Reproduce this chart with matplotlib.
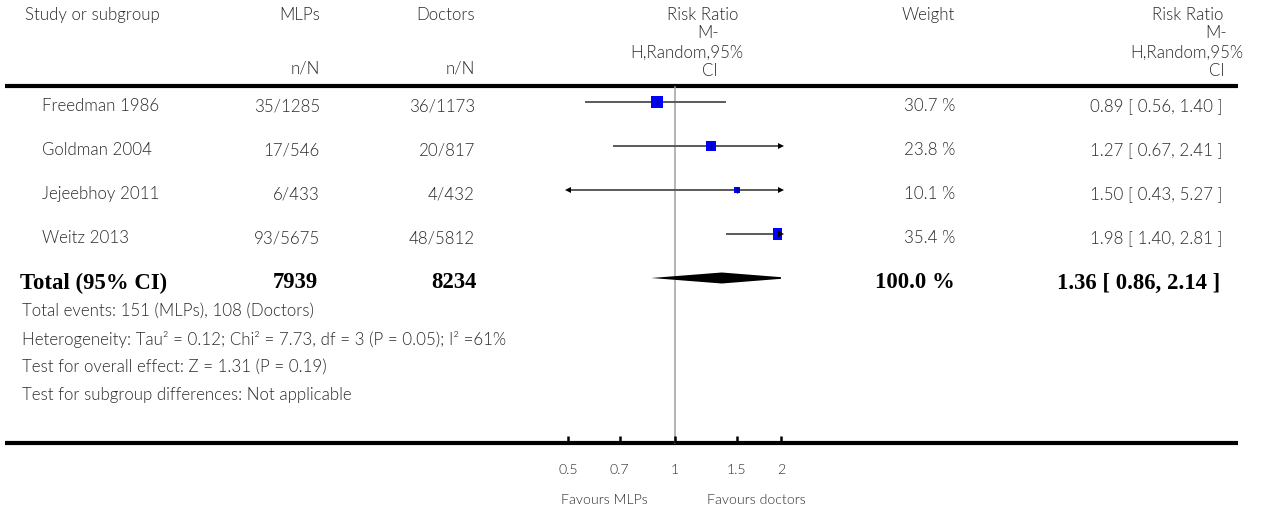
import numpy as np
import matplotlib
matplotlib.use("Agg")
import matplotlib.pyplot as plt

# ---------------- data ----------------
studies = ["Freedman 1986", "Goldman 2004", "Jejeebhoy 2011", "Weitz 2013"]
mlp_events = [35, 17, 6, 93]
mlp_total = [1285, 546, 433, 5675]
doc_events = [36, 20, 4, 48]
doc_total = [1173, 817, 432, 5812]
rr = [0.89, 1.27, 1.50, 1.98]
rr_lo = [0.56, 0.67, 0.43, 1.40]
rr_hi = [1.40, 2.41, 5.27, 2.81]
weights = [30.7, 23.8, 10.1, 35.4]

total_label = "Total (95% CI)"
total_mlp = 7939
total_doc = 8234
total_weight = 100.0
total_rr, total_lo, total_hi = 1.36, 0.86, 2.14

footnotes = [
    "Total events: 151 (MLPs), 108 (Doctors)",
    "Heterogeneity: Tau\u00b2 = 0.12; Chi\u00b2 = 7.73, df = 3 (P = 0.05); I\u00b2 =61%",
    "Test for overall effect: Z = 1.31 (P = 0.19)",
    "Test for subgroup differences: Not applicable",
]

xticks = [0.5, 0.7, 1, 1.5, 2]
xtick_labels = ["0.5", "0.7", "1", "1.5", "2"]
xlim = (0.5, 2)
favours = ["Favours MLPs", "Favours doctors"]

# ---------------- layout ----------------
W, H = 1268, 512
FONT = "Lato"
FW = 300
SERIF = "Liberation Serif"
TXT = "#2b2b2b"

fig = plt.figure(figsize=(W / 100, H / 100), dpi=100)
renderer = fig.canvas.get_renderer()


def fit_size(s, target_px, **kw):
    tt = fig.text(0, 0, s, fontsize=10, **kw)
    w = tt.get_window_extent(renderer=renderer).width
    tt.remove()
    return 10 * target_px / w


fs = fit_size(footnotes[0], 291, family=FONT, fontweight=FW)
fs_bold = fit_size(total_label, 147, family=SERIF, fontweight="bold")
fs_small = fit_size(favours[1], 98, family=FONT, fontweight=FW)

tx = fig.add_axes([0, 0, 1, 1])
tx.set_xlim(0, W)
tx.set_ylim(H, 0)
tx.axis("off")

plot_left, plot_right = 568, 781
fx = fig.add_axes([plot_left / W, 0, (plot_right - plot_left) / W, 1])
fx.set_xscale("log")
fx.set_xlim(*xlim)
fx.set_ylim(H, 0)
fx.axis("off")
fx.patch.set_alpha(0)

row0, row_step = 102, 44
rows = [row0 + i * row_step for i in range(len(studies))]
total_y = row0 + len(studies) * row_step
head_line_y, bottom_line_y = 86, 443
foot_y0, foot_step = 311, 28

col_study, col_mlp, col_doc = 42, 320, 475
col_weight, col_ci = 955, 1223


def t(x, y, s, ha="left", **kw):
    kw.setdefault("fontsize", fs)
    kw.setdefault("color", TXT)
    kw.setdefault("family", FONT)
    kw.setdefault("fontweight", FW)
    tx.text(x, y, s, ha=ha, va="center", **kw)


# header
t(25, 15, "Study or subgroup")
t(col_mlp, 15, "MLPs", ha="right")
t(col_doc, 15, "Doctors", ha="right")
t(col_mlp, 69, "n/N", ha="right")
t(col_doc, 69, "n/N", ha="right")
t(738, 15, "Risk Ratio", ha="right")
t(708, 33, "M-", ha="center")
t(743, 53, "H,Random,95%", ha="right")
t(710, 71, "CI", ha="center")
t(col_weight, 15, "Weight", ha="right")
t(1223, 15, "Risk Ratio", ha="right")
t(1227, 33, "M-", ha="right")
t(1243, 53, "H,Random,95%", ha="right")
t(1225, 71, "CI", ha="right")

# horizontal rules
tx.plot([5, 1238], [head_line_y, head_line_y], color="black", lw=3.0, solid_capstyle="butt")
tx.plot([5, 1238], [bottom_line_y, bottom_line_y], color="black", lw=3.0, solid_capstyle="butt")

# reference line at 1
fx.plot([1, 1], [head_line_y + 1, bottom_line_y], color="#a0a0a0", lw=1.1, zorder=1)

# study rows
for i, y in enumerate(rows):
    ty = y + 4
    t(col_study, ty, studies[i])
    t(col_mlp, ty, f"{mlp_events[i]}/{mlp_total[i]}", ha="right")
    t(col_doc, ty, f"{doc_events[i]}/{doc_total[i]}", ha="right")
    t(col_weight, ty, f"{weights[i]:.1f} %", ha="right")
    t(col_ci, ty, f"{rr[i]:.2f} [ {rr_lo[i]:.2f}, {rr_hi[i]:.2f} ]", ha="right")

    lo = max(rr_lo[i], xlim[0])
    hi = min(rr_hi[i], xlim[1])
    fx.plot([lo, hi], [y, y], color="#5a5a5a", lw=1.4, zorder=2, solid_capstyle="butt")
    side_px = 2.18 * np.sqrt(weights[i])
    fx.plot([rr[i]], [y], marker="s", ms=side_px * 0.72, color="#0000ff",
            markeredgewidth=0, zorder=3)
    fx.plot([rr[i]], [y], marker="|", ms=4, color="#111111", mew=1.0, zorder=4)
    if rr_hi[i] > xlim[1]:
        fx.plot([xlim[1]], [y], marker=">", ms=4, color="black", mew=0,
                clip_on=False, zorder=4)
    if rr_lo[i] < xlim[0]:
        fx.plot([xlim[0]], [y], marker="<", ms=4, color="black", mew=0,
                clip_on=False, zorder=4)

# total row
ty = total_y + 5
bold = dict(family=SERIF, fontweight="bold", fontsize=fs_bold, color="black")
t(20, ty, total_label, **bold)
t(col_mlp - 2, ty, f"{total_mlp}", ha="right", **bold)
t(col_doc + 2, ty, f"{total_doc}", ha="right", **bold)
t(col_weight, ty, f"{total_weight:.1f} %", ha="right", **bold)
t(col_ci - 3, ty, f"{total_rr:.2f} [ {total_lo:.2f}, {total_hi:.2f} ]", ha="right", **bold)

half_h = 5.5
fx.fill([total_lo, total_rr, total_hi, total_rr],
        [total_y, total_y - half_h, total_y, total_y + half_h],
        color="black", lw=0, zorder=3)

# footnotes
for k, s in enumerate(footnotes):
    t(22, foot_y0 + k * foot_step, s)

# axis ticks
for v, lab in zip(xticks, xtick_labels):
    fx.plot([v, v], [bottom_line_y - 7, bottom_line_y], color="black", lw=1.8,
            clip_on=False, solid_capstyle="butt")
    fx.text(v, 470, lab, ha="center", va="center", fontsize=fs_small,
            family=FONT, fontweight=FW, color=TXT, clip_on=False)

t(604, 500, favours[0], ha="center", fontsize=fs_small)
t(756, 500, favours[1], ha="center", fontsize=fs_small)

fig.savefig("out.png", dpi=100)
